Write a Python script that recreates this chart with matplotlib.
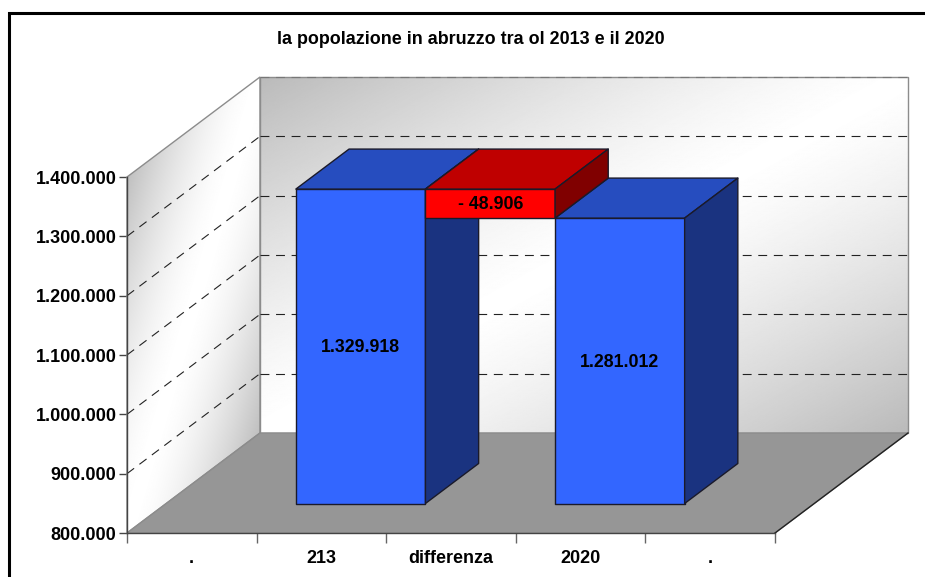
import numpy as np
import matplotlib
matplotlib.use("Agg")
import matplotlib.pyplot as plt
from matplotlib.lines import Line2D
from matplotlib.patches import Polygon

# Chart data
categories = [".", "213", "differenza", "2020", "."]
title = "la popolazione in abruzzo tra ol 2013 e il 2020"
y_ticks = [800000, 900000, 1000000, 1100000, 1200000, 1300000, 1400000]
y_tick_labels = ["800.000", "900.000", "1.000.000", "1.100.000", "1.200.000", "1.300.000", "1.400.000"]
blue_positions = [1, 3]
blue_values = [1329918, 1281012]
blue_labels = ["1.329.918", "1.281.012"]
red_position = 2
red_bottom = 1281012
red_height = 48906
red_label = "- 48.906"

plt.rcParams["font.family"] = ["Liberation Sans", "DejaVu Sans"]
plt.rcParams["font.weight"] = "bold"

W, H = 925, 577
fig = plt.figure(figsize=(W / 100, H / 100), dpi=100)
ax = fig.add_axes([127 / W, 1 - 533 / H, 648 / W, 356 / H])
x0, x1 = 0, 5
y0, y1 = 800000, 1400000

# Depth of the 3D box, in data units
DX = 133 / 648 * (x1 - x0)
DY = 100 / 356 * (y1 - y0)


def proj(x, y, d):
    return x + d * DX, y + d * DY


def poly(points, **kw):
    p = Polygon(points, closed=True, clip_on=False, **kw)
    ax.add_patch(p)
    return p


def gradient(points, func, extent, zorder):
    # grey image clipped to the wall shape
    xs = np.linspace(extent[0], extent[1], 400)
    ys = np.linspace(extent[2], extent[3], 400)
    X, Y = np.meshgrid(xs, ys)
    im = ax.imshow(func(X, Y), extent=extent, origin="lower", cmap="gray", vmin=0, vmax=1,
                   aspect="auto", zorder=zorder)
    clip = Polygon(points, closed=True, transform=ax.transData)
    im.set_clip_box(fig.bbox)
    im.set_clip_path(clip)


def back_shade(X, Y):
    u = (X - x0 - DX) / (x1 - x0)
    v = (y1 + DY - Y) / (y1 - y0)
    return 1 - 0.27 * np.abs(u + v - 1) ** 1.3


def side_shade(X, Y):
    u = (X - x0) / DX
    v = (y1 + u * DY - Y) / (y1 - y0)
    return 1 - 0.25 * np.abs(u + v - 1) ** 1.6


# Back wall, side wall, floor
back = [proj(x0, y0, 1), proj(x1, y0, 1), proj(x1, y1, 1), proj(x0, y1, 1)]
side = [proj(x0, y0, 0), proj(x0, y0, 1), proj(x0, y1, 1), proj(x0, y1, 0)]
floor = [proj(x0, y0, 0), proj(x1, y0, 0), proj(x1, y0, 1), proj(x0, y0, 1)]
gradient(back, back_shade, (x0 + DX, x1 + DX, y0 + DY, y1 + DY), 1)
gradient(side, side_shade, (x0, x0 + DX, y0, y1 + DY), 1)
poly(back, facecolor="none", edgecolor="#8c8c8c", lw=1, zorder=2)
poly(side, facecolor="none", edgecolor="#8c8c8c", lw=1, zorder=2)
poly(floor, facecolor="#969696", edgecolor="#8c8c8c", lw=1, zorder=3)
ax.plot(*zip(proj(x1, y0, 0), proj(x1, y0, 1)), color="#222222", lw=1, zorder=3, clip_on=False)

# Dashed gridlines on both walls
for t in y_ticks[1:]:
    c = "#777777" if t == y_ticks[-1] else "#222222"
    ax.plot(*zip(proj(x0, t, 1), proj(x1, t, 1)), color=c, lw=0.8, ls=(0, (8, 6)), zorder=2, clip_on=False)
    if t != y_ticks[-1]:
        ax.plot(*zip(proj(x0, t, 0), proj(x0, t, 1)), color=c, lw=0.8, ls=(0, (8, 6)), zorder=2, clip_on=False)


def bar3d(pos, bottom, top, front, top_col, side_col, z):
    d0, d1 = 0.295, 0.695
    style = dict(edgecolor="#1a1a2a", lw=1, joinstyle="round", zorder=z)
    l, r = pos, pos + 1
    poly([proj(l, bottom, d0), proj(r, bottom, d0), proj(r, top, d0), proj(l, top, d0)], facecolor=front, **style)
    poly([proj(l, top, d0), proj(r, top, d0), proj(r, top, d1), proj(l, top, d1)], facecolor=top_col, **style)
    poly([proj(r, bottom, d0), proj(r, bottom, d1), proj(r, top, d1), proj(r, top, d0)], facecolor=side_col, **style)
    return proj(pos + 0.5, (bottom + top) / 2, d0)


def bar_label(cx, cy, text):
    # nudged down a little to sit where the reference has it
    ax.annotate(text, (cx, cy), xytext=(0, -1), textcoords="offset points", ha="center", va="center",
                fontsize=12.8, color="black", zorder=8)


for i, (pos, val, lab) in enumerate(zip(blue_positions, blue_values, blue_labels)):
    cx, cy = bar3d(pos, y0, val, "#3366FF", "#264DBF", "#1A3380", 4 + i)
    bar_label(cx, cy, lab)

cx, cy = bar3d(red_position, red_bottom, red_bottom + red_height, "#FF0000", "#BF0000", "#800000", 6)
bar_label(cx, cy, red_label)

# Axes
ax.set_xlim(x0, x1)
ax.set_ylim(y0, y1)
ax.patch.set_visible(False)
for s in ["top", "right"]:
    ax.spines[s].set_visible(False)
for s in ["left", "bottom"]:
    ax.spines[s].set_color("#444444")
    ax.spines[s].set_linewidth(1)
    ax.spines[s].set_zorder(9)
ax.set_yticks(y_ticks)
ax.set_yticklabels(y_tick_labels, fontsize=13, fontweight="bold")
ax.tick_params(axis="y", length=6, width=1, color="#444444", pad=1.5)
ax.set_xticks(np.arange(x0, x1 + 1))
ax.set_xticklabels([])
ax.tick_params(axis="x", which="major", length=7, width=1, color="#666666")
ax.set_xticks(np.arange(len(categories)) + 0.5, minor=True)
ax.set_xticklabels(categories, minor=True, fontsize=13, fontweight="bold")
ax.tick_params(axis="x", which="minor", length=0, pad=12.5)

# Title and outer frame, the right and bottom sides are cut off in the image
fig.text(471 / W, 1 - 40 / H, title, ha="center", va="center", fontsize=12.9, fontweight="bold")
fig.add_artist(Line2D([9 / W, 9 / W, 1], [0, 1 - 13 / H, 1 - 13 / H], color="black", lw=2.2,
                      transform=fig.transFigure, solid_joinstyle="miter"))

fig.savefig("out.png", dpi=100, facecolor="white")
